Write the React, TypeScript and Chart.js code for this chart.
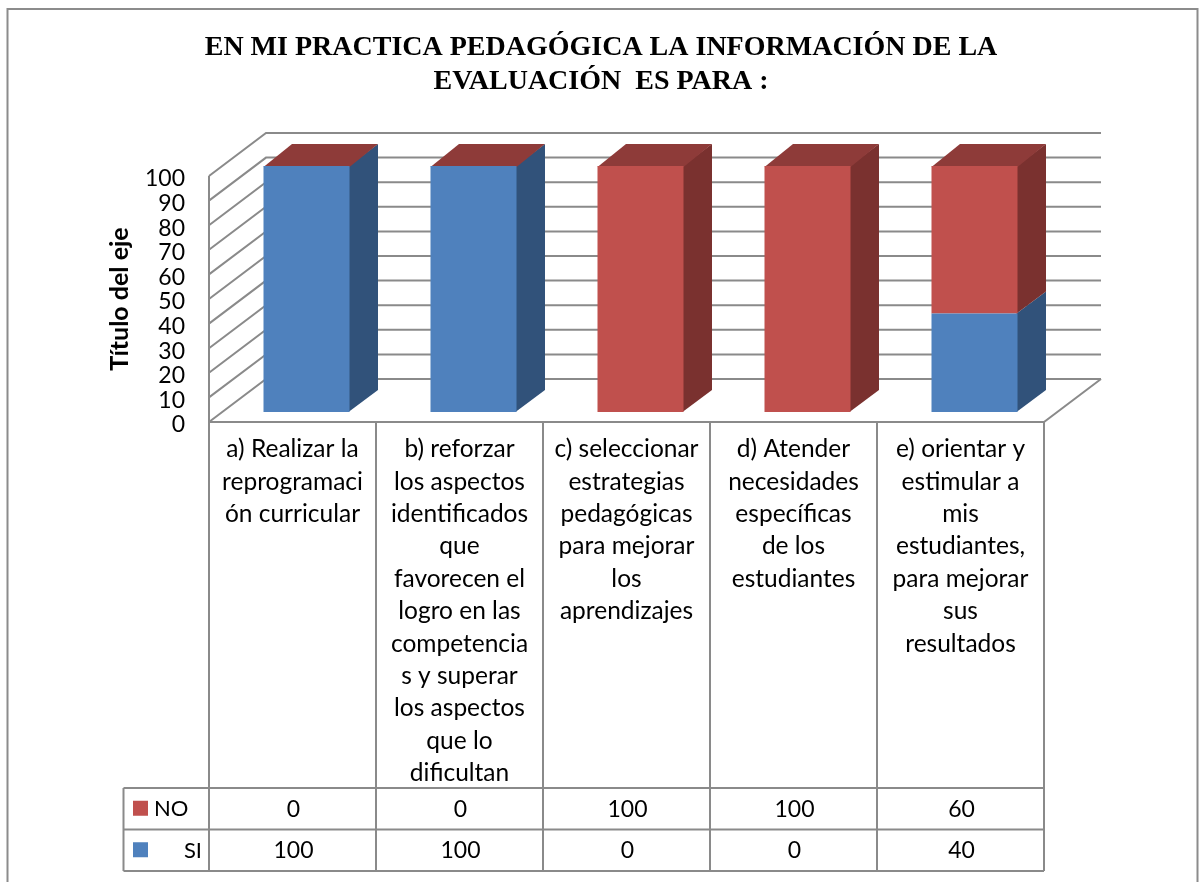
import React, { useEffect, useRef } from "react";
import { Chart, registerables } from "chart.js";

Chart.register(...registerables);

const categories: string[][] = [
  ["a) Realizar la", "reprogramaci", "ón curricular"],
  ["b) reforzar", "los aspectos", "identificados", "que", "favorecen el", "logro en las", "competencia", "s y superar", "los aspectos", "que lo", "dificultan"],
  ["c) seleccionar", "estrategias", "pedagógicas", "para mejorar", "los", "aprendizajes"],
  ["d) Atender", "necesidades", "específicas", "de los", "estudiantes"],
  ["e) orientar y", "estimular a", "mis", "estudiantes,", "para mejorar", "sus", "resultados"],
];
const siValues = [100, 100, 0, 0, 40];
const noValues = [0, 0, 100, 100, 60];
const titleLines = ["EN MI PRACTICA PEDAGÓGICA LA INFORMACIÓN DE LA", "EVALUACIÓN  ES PARA :"];
const axisTitle = "Título del eje";

const LINE = "#8A8A8A";
const BLUE = "#4F81BD";
const RED = "#C0504D";
const BLUE_SIDE = "#31527A";
const RED_SIDE = "#7A312F";
const RED_TOP = "#8E3B39";
const FONT = "Lato";

const WALL_DX = 57;
const WALL_DY = -43;
const BAR_DX = 14;
const BAR_DY = -10;
const DEPTH_DX = 28.5;
const DEPTH_DY = -22;

const threeD = {
  id: "threeD",
  afterLayout(chart: any) {
    // the printed title is centred on the page, not on the plot
    chart.titleBlock.left = 2;
    chart.titleBlock.right = 1200;
  },
  beforeDatasetsDraw(chart: any) {
    const { ctx, chartArea: a, scales } = chart;
    const y = scales.y;
    const x = scales.x;
    ctx.save();
    ctx.strokeStyle = LINE;
    ctx.lineWidth = 2;
    const seg = (pts: number[][]) => {
      ctx.beginPath();
      pts.forEach((p, i) => (i ? ctx.lineTo(p[0], p[1]) : ctx.moveTo(p[0], p[1])));
      ctx.stroke();
    };
    y.ticks.forEach((t: any) => {
      const py = y.getPixelForValue(t.value);
      seg([
        [a.left, py],
        [a.left + WALL_DX, py + WALL_DY],
        [a.right + WALL_DX, py + WALL_DY],
      ]);
    });
    const py0 = y.getPixelForValue(0);
    seg([[a.left, a.top], [a.left, py0], [a.right, py0], [a.right + WALL_DX, py0 + WALL_DY]]);
    const tableTop = 788;
    for (let i = 0; i <= categories.length; i++) {
      const vx = i === categories.length
        ? a.right
        : x.getPixelForValue(i) - (x.getPixelForValue(1) - x.getPixelForValue(0)) / 2;
      seg([[vx, py0], [vx, tableTop]]);
    }

    chart.data.datasets.forEach((ds: any, di: number) => {
      const isNo = di === 1;
      chart.getDatasetMeta(di).data.forEach((bar: any, i: number) => {
        const { x: cx, y: top, base, width } = bar.getProps(["x", "y", "base", "width"], true);
        const r = cx + width / 2 + BAR_DX;
        const l = cx - width / 2 + BAR_DX;
        const t = top + BAR_DY;
        const b = base + BAR_DY;
        if (ds.data[i] > 0) {
          ctx.fillStyle = isNo ? RED_SIDE : BLUE_SIDE;
          ctx.beginPath();
          ctx.moveTo(r - 1, t);
          ctx.lineTo(r + DEPTH_DX, t + DEPTH_DY);
          ctx.lineTo(r + DEPTH_DX, b + DEPTH_DY);
          ctx.lineTo(r - 1, b);
          ctx.closePath();
          ctx.fill();
        }
        if (isNo) {
          ctx.fillStyle = RED_TOP;
          ctx.beginPath();
          ctx.moveTo(l, t + 1);
          ctx.lineTo(l + DEPTH_DX, t + DEPTH_DY);
          ctx.lineTo(r + DEPTH_DX, t + DEPTH_DY);
          ctx.lineTo(r, t + 1);
          ctx.closePath();
          ctx.fill();
        }
      });
    });
    ctx.restore();
    ctx.save();
    ctx.translate(BAR_DX, BAR_DY);
  },
  afterDatasetsDraw(chart: any) {
    chart.ctx.restore();
  },
  afterDraw(chart: any) {
    const { ctx, chartArea: a, scales } = chart;
    const x = scales.x;
    const rows = [
      { label: "NO", values: noValues, color: RED, top: 788, bottom: 829.5 },
      { label: "SI", values: siValues, color: BLUE, top: 829.5, bottom: 871 },
    ];
    const tableLeft = 123.5;
    const step = x.getPixelForValue(1) - x.getPixelForValue(0);
    ctx.save();
    ctx.strokeStyle = "#8C8C8C";
    ctx.lineWidth = 2;
    ctx.beginPath();
    ctx.moveTo(7.5, 882);
    ctx.lineTo(7.5, 9);
    ctx.lineTo(1197.5, 9);
    ctx.lineTo(1197.5, 882);
    ctx.stroke();
    ctx.strokeStyle = LINE;
    ctx.lineWidth = 2;
    ctx.beginPath();
    [788, 829.5, 871].forEach((ly) => {
      ctx.moveTo(tableLeft, ly);
      ctx.lineTo(a.right, ly);
    });
    ctx.moveTo(tableLeft, 788);
    ctx.lineTo(tableLeft, 871);
    for (let i = 0; i <= categories.length; i++) {
      const vx = a.left + i * step;
      ctx.moveTo(vx, 788);
      ctx.lineTo(vx, 871);
    }
    ctx.stroke();
    ctx.fillStyle = "#000";
    ctx.textBaseline = "middle";
    rows.forEach((row, ri) => {
      const cy = (row.top + row.bottom) / 2;
      ctx.fillStyle = row.color;
      ctx.fillRect(133, cy - 8, 15, 15);
      ctx.fillStyle = "#000";
      ctx.font = `22px ${FONT}`;
      if (ri === 0) {
        ctx.textAlign = "left";
        ctx.fillText(row.label, 154, cy + 0.5);
      } else {
        ctx.textAlign = "right";
        ctx.fillText(row.label, 202, cy + 0.5);
      }
      ctx.font = `23px ${FONT}`;
      ctx.textAlign = "center";
      row.values.forEach((v, i) => {
        ctx.fillText(String(v), x.getPixelForValue(i) + 1, cy + 0.5);
      });
    });
    ctx.restore();
  },
};

export default function App() {
  const ref = useRef<HTMLCanvasElement | null>(null);
  useEffect(() => {
    const chart = new Chart(ref.current as HTMLCanvasElement, {
      type: "bar",
      plugins: [threeD],
      data: {
        labels: categories as any,
        datasets: [
          { label: "SI", data: siValues, backgroundColor: BLUE, borderWidth: 0, clip: false as any, categoryPercentage: 0.515, barPercentage: 1 },
          { label: "NO", data: noValues, backgroundColor: RED, borderWidth: 0, clip: false as any, categoryPercentage: 0.515, barPercentage: 1 },
        ],
      },
      options: {
        animation: false,
        responsive: false,
        layout: { padding: { left: 100, right: 156, top: 0, bottom: 0 } },
        plugins: {
          legend: { display: false },
          tooltip: { enabled: false },
          title: {
            display: true,
            text: titleLines,
            color: "#000",
            font: { family: "'Liberation Serif'", size: 28, weight: "bold", lineHeight: "34px" as any },
            padding: { top: 31, bottom: 77 },
          },
        },
        scales: {
          x: {
            stacked: true,
            afterFit: (s: any) => { s.height = 460; },
            grid: { display: false },
            border: { display: false },
            ticks: {
              autoSkip: false,
              maxRotation: 0,
              minRotation: 0,
              padding: 3,
              color: "#000",
              font: { family: FONT, size: 24.5, lineHeight: "32.4px" as any },
            },
          },
          y: {
            stacked: true,
            min: 0,
            max: 100,
            afterFit: (s: any) => { s.width = 109; },
            grid: { display: false },
            border: { display: false },
            ticks: {
              autoSkip: false,
              stepSize: 10,
              padding: 16,
              color: "#000",
              font: { family: FONT, size: 23, lineHeight: "6px" as any },
              callback: (v: any) => [" ", String(v)],
            },
            title: {
              display: true,
              text: axisTitle,
              color: "#000",
              padding: { top: 5, bottom: 0 },
              font: { family: FONT, size: 25, weight: "bold" },
            },
          },
        },
      },
    });
    return () => chart.destroy();
  }, []);
  return (
    <canvas
      ref={ref}
      width={1200}
      height={882}
      style={{ position: "absolute", left: 0, top: 0, display: "block", background: "#fff" }}
    />
  );
}
